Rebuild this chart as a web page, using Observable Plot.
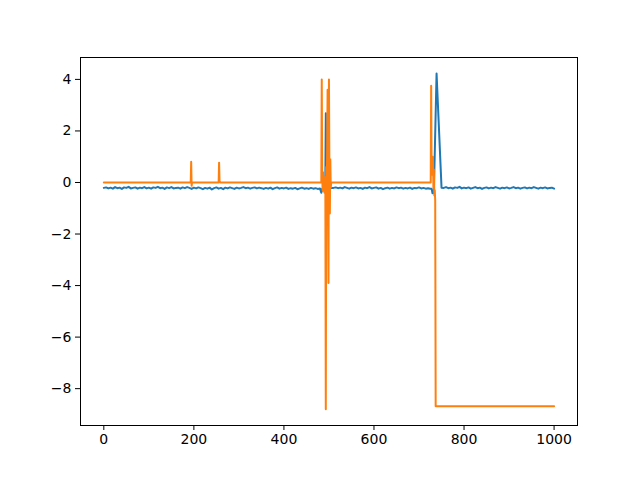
<!DOCTYPE html>
<html>
<head>
<meta charset="utf-8">
<script src="https://cdn.jsdelivr.net/npm/d3@7"></script>
<script src="https://cdn.jsdelivr.net/npm/@observablehq/plot@0.6"></script>
<style>
  html, body { margin: 0; padding: 0; background: #fff; }
  svg { display: block; }
</style>
</head>
<body>
<div id="chart"></div>
<script>
// Blue series: baseline stretches sampled every 5 steps, plus spike regions
const blueBase1Start = 0;
const blueBase1 = [
  -0.21,-0.19,-0.23,-0.20,-0.24,-0.18,-0.22,-0.20,-0.25,-0.19,
  -0.21,-0.17,-0.23,-0.21,-0.19,-0.24,-0.20,-0.22,-0.18,-0.23,
  -0.20,-0.24,-0.19,-0.21,-0.17,-0.22,-0.20,-0.25,-0.19,-0.22,
  -0.18,-0.23,-0.21,-0.20,-0.24,-0.19,-0.22,-0.18,-0.21,-0.25,
  -0.20,-0.23,-0.19,-0.22,-0.26,-0.21,-0.24,-0.20,-0.27,-0.22,
  -0.19,-0.24,-0.21,-0.26,-0.20,-0.23,-0.19,-0.22,-0.25,-0.20,
  -0.23,-0.21,-0.18,-0.22,-0.20,-0.24,-0.21,-0.19,-0.23,-0.20,
  -0.22,-0.25,-0.21,-0.24,-0.20,-0.26,-0.22,-0.19,-0.24,-0.21,
  -0.23,-0.20,-0.25,-0.22,-0.24,-0.21,-0.26,-0.23,-0.20,-0.24,
  -0.22,-0.25,-0.21,-0.24,-0.22,-0.25,-0.23
];
const blueSpike1X = [483, 485, 487, 489, 491, 492, 493, 494, 496, 499, 502, 505];
const blueSpike1Y = [-0.40, -0.24, -0.30, -0.27, -0.36, 0.30, 2.69, 0.20, -0.30, -0.20, -0.24, -0.21];
const blueBase2Start = 510;
const blueBase2 = [
  -0.21,-0.19,-0.22,-0.20,-0.23,-0.18,-0.21,-0.24,-0.20,-0.22,
  -0.19,-0.23,-0.21,-0.25,-0.20,-0.22,-0.18,-0.23,-0.21,-0.19,
  -0.24,-0.21,-0.26,-0.22,-0.20,-0.24,-0.21,-0.23,-0.19,-0.22,
  -0.20,-0.24,-0.21,-0.23,-0.20,-0.25,-0.21,-0.22,-0.19,-0.23,
  -0.21,-0.24,-0.22,-0.24
];
const blueSpike2X = [728, 730, 733, 739, 750];
const blueSpike2Y = [-0.24, -0.42, -0.40, 4.23, -0.20];
const blueBase3Start = 755;
const blueBase3 = [
  -0.21,-0.18,-0.22,-0.20,-0.24,-0.19,-0.21,-0.17,-0.23,-0.20,
  -0.22,-0.19,-0.24,-0.21,-0.18,-0.22,-0.20,-0.25,-0.21,-0.19,
  -0.23,-0.20,-0.22,-0.18,-0.21,-0.24,-0.20,-0.22,-0.19,-0.23,
  -0.21,-0.18,-0.22,-0.20,-0.24,-0.21,-0.19,-0.23,-0.20,-0.22,
  -0.18,-0.21,-0.24,-0.20,-0.22,-0.19,-0.23,-0.21,-0.20,-0.24
];
const baseStep = 5;

// Orange series
const orangeX = [0,193,194,195,196,255,256,257,258,259,
  483,484,485,486,487,488,489,490,491,492,493,494,495,496,497,498,499,500,501,502,503,504,505,
  726,727,728,729,730,731,732,733,734,735,736,737,1000];
const orangeY = [0,0,0.80,-0.13,0,0,0.77,0.05,0.02,0,
  0,4.0,0.2,-0.3,0.4,-0.2,0.1,-0.4,0.2,-0.3,-8.80,0.6,-0.5,1.2,3.6,-1.0,-3.9,4.0,0.5,-1.2,0.9,-0.2,0,
  0,3.75,0.3,0.9,0.4,1.0,-0.2,0.5,-0.5,-0.3,-0.7,-8.68,-8.68];

const xTicks = [0, 200, 400, 600, 800, 1000];
const yTicks = [-8, -6, -4, -2, 0, 2, 4];

// Build tables
const blue = [];
blueBase1.forEach((v, i) => blue.push({x: blueBase1Start + i * baseStep, y: v}));
blueSpike1X.forEach((x, i) => blue.push({x, y: blueSpike1Y[i]}));
blueBase2.forEach((v, i) => blue.push({x: blueBase2Start + i * baseStep, y: v}));
blueSpike2X.forEach((x, i) => blue.push({x, y: blueSpike2Y[i]}));
blueBase3.forEach((v, i) => blue.push({x: blueBase3Start + i * baseStep, y: v}));
const orange = orangeX.map((x, i) => ({x, y: orangeY[i]}));

const fmt = d3.format("d");
const font = "DejaVu Sans, sans-serif";

const chart = Plot.plot({
  width: 640,
  height: 478,
  marginLeft: 80,
  marginRight: 63,
  marginTop: 57,
  marginBottom: 53,
  style: {fontFamily: font, fontSize: "14px", color: "black", background: "white"},
  x: {domain: [-51.8, 1052], ticks: xTicks},
  y: {domain: [-9.43, 4.85], ticks: yTicks},
  marks: [
    Plot.line(blue, {x: "x", y: "y", stroke: "#1f77b4", strokeWidth: 2, curve: "linear"}),
    Plot.line(orange, {x: "x", y: "y", stroke: "#ff7f0e", strokeWidth: 2, curve: "linear"}),
    Plot.frame({stroke: "black", strokeWidth: 1}),
    Plot.axisX({ticks: xTicks, tickFormat: fmt, tickSize: 5, tickPadding: 4, fontSize: 14, label: null, stroke: "black"}),
    Plot.axisY({ticks: yTicks, tickFormat: fmt, tickSize: 5, tickPadding: 4, fontSize: 14, label: null, stroke: "black"})
  ]
});
document.getElementById("chart").appendChild(chart);
</script>
</body>
</html>
